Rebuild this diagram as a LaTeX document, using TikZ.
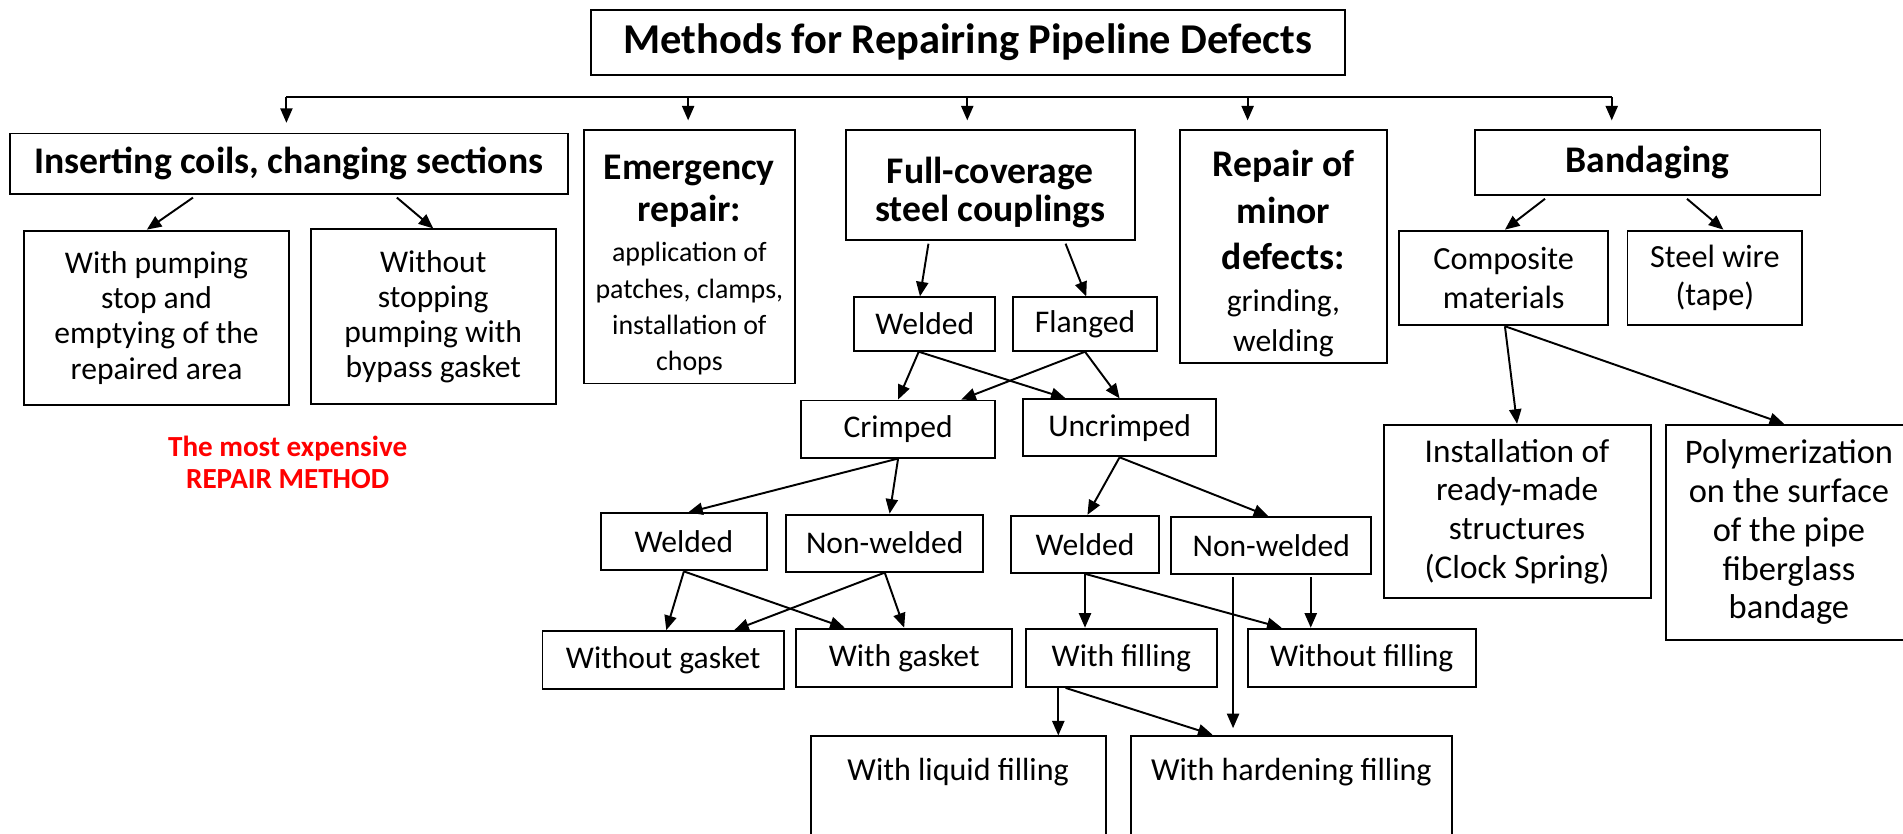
\documentclass[tikz,border=0pt]{standalone}
\usepackage{fontspec}
\setmainfont{Carlito}
\usetikzlibrary{arrows.meta,calc}

\newcommand{\hdf}{\fontsize{15.5}{16}\selectfont\bfseries}
\newcommand{\topgap}{\rule{0pt}{17pt}}

\begin{document}
\begin{tikzpicture}[x=0.5pt, y=-0.5pt,
        box/.style={draw, line width=0.8pt, align=center, inner sep=2pt},
        hd/.style={font=\hdf},
        txt/.style={font=\fontsize{13}{14.5}\selectfont},
        rtxt/.style={font=\fontsize{13.3}{16}\selectfont},
        arr/.style={line width=0.8pt, -{Triangle[length=6pt,width=5pt]}}]
        \useasboundingbox (0,0) rectangle (1568,687);
        % top level
        \node[box, font=\fontsize{17.5}{19}\selectfont\bfseries, minimum width=310.5pt, minimum height=27pt] (title) at (797.5,35) {Methods for Repairing Pipeline Defects};
        \node[box, hd, minimum width=230pt, minimum height=25pt] (ins) at (238,135) {Inserting coils, changing sections};
        \node[box, font=\fontsize{11.5}{15}\selectfont, minimum width=87pt, minimum height=104.5pt] (emer) at (568,211.5)
            {{\hdf\topgap Emergency}\\[2.5pt]{\hdf repair:}\\[1.5pt]application of\\patches, clamps,\\installation of\\chops};
        \node[box, hd, minimum width=119pt, minimum height=45.5pt] (full) at (816,152.5) {\topgap Full-coverage\\steel couplings};
        \node[box, font=\fontsize{13}{16.5}\selectfont, minimum width=85.5pt, minimum height=96pt] (minor) at (1057.5,203)
            {{\hdf\topgap Repair of}\\[2.5pt]{\hdf minor}\\[2.5pt]{\hdf defects:}\\[1pt]grinding,\\welding};
        \node[box, hd, minimum width=142.5pt, minimum height=27pt] (band) at (1357.5,134) {Bandaging};
        % second level
        \node[box, txt, minimum width=109pt, minimum height=72pt] (pump) at (129,262) {With pumping\\stop and\\emptying of the\\repaired area};
        \node[box, txt, minimum width=101pt, minimum height=72pt] (bypass) at (357,261) {Without\\stopping\\pumping with\\bypass gasket};
        \node[text=red, font=\fontsize{12}{13.5}\selectfont\bfseries, align=center] (note) at (237,381) {The most expensive\\REPAIR METHOD};
        \node[box, txt, minimum width=58pt, minimum height=22pt] (weldA) at (762,267) {Welded};
        \node[box, txt, minimum width=59pt, minimum height=22pt] (flang) at (894,267) {Flanged};
        \node[box, rtxt, minimum width=86pt, minimum height=39pt] (comp) at (1239,229) {Composite\\materials};
        \node[box, rtxt, minimum width=72pt, minimum height=39pt] (wire) at (1413,229) {Steel wire\\(tape)};
        % third level
        \node[box, txt, minimum width=80pt, minimum height=23.5pt] (crimp) at (740,353.5) {Crimped};
        \node[box, txt, minimum width=79.5pt, minimum height=23.5pt] (uncr) at (922.5,352.5) {Uncrimped};
        \node[box, rtxt, font=\fontsize{13.7}{16}\selectfont, minimum width=110pt, minimum height=71.5pt] (inst) at (1250,421.5) {Installation of\\ready-made\\structures\\(Clock Spring)};
        \node[box, rtxt, font=\fontsize{14.2}{16}\selectfont, minimum width=101.5pt, minimum height=88.5pt] (poly) at (1474,438.5) {Polymerization\\on the surface\\of the pipe\\fiberglass\\bandage};
        % fourth level
        \node[box, txt, minimum width=68.5pt, minimum height=23.5pt] (weldB) at (563.5,446.5) {Welded};
        \node[box, txt, minimum width=81pt, minimum height=23.5pt] (nonwB) at (729,447.5) {Non-welded};
        \node[box, txt, minimum width=61pt, minimum height=23.5pt] (weldC) at (894,448.5) {Welded};
        \node[box, txt, minimum width=82.5pt, minimum height=23.5pt] (nonwC) at (1047.5,449.5) {Non-welded};
        % fifth level
        \node[box, txt, minimum width=99.5pt, minimum height=24pt] (nogask) at (546.5,544) {Without gasket};
        \node[box, txt, minimum width=89pt, minimum height=24pt] (gask) at (745,542) {With gasket};
        \node[box, txt, minimum width=79pt, minimum height=24pt] (fill) at (924,542) {With filling};
        \node[box, txt, minimum width=94pt, minimum height=24pt] (nofill) at (1122,542) {Without filling};
        \node[box, txt, font=\fontsize{13.2}{14.5}\selectfont, anchor=north, inner ysep=0pt, text height=18pt, text depth=42pt, minimum width=121.5pt] (liq) at (789.5,606) {With liquid filling};
        \node[box, txt, font=\fontsize{13.2}{14.5}\selectfont, anchor=north, inner ysep=0pt, text height=18pt, text depth=42pt, minimum width=132pt] (hard) at (1064,606) {With hardening filling};

        % bus under the title
        \coordinate (t1) at (236,80);
        \coordinate (t2) at (567,80);
        \coordinate (t3) at (797,80);
        \coordinate (t4) at (1028,80);
        \coordinate (t5) at (1328,80);
        \draw[line width=0.8pt] (t1) -- (t5);
        \draw[arr, shorten >=4pt] (t1) -- (t1 |- ins.north);
        \draw[arr, shorten >=3.5pt] (t2) -- (t2 |- emer.north);
        \draw[arr, shorten >=3.5pt] (t3) -- (t3 |- full.north);
        \draw[arr, shorten >=3.5pt] (t4) -- (t4 |- minor.north);
        \draw[arr, shorten >=3.5pt] (t5) -- (t5 |- band.north);

        % branches
        \draw[arr] ($(ins.south)+(-79,2)$) -- ($(pump.north)+(-8,0)$);
        \draw[arr] ($(ins.south)+(89,2)$) -- (bypass.north);
        \draw[arr] ($(full.south)+(-51,2)$) -- ($(weldA.north)+(-4,0)$);
        \draw[arr] ($(full.south)+(62,2)$) -- ($(flang.north)+(1,0)$);
        \draw[arr] ($(weldA.south)+(-5,0)$) -- (crimp.north);
        \draw[arr] ($(weldA.south)+(-5,0)$) -- ($(uncr.north)+(-44.5,0)$);
        \draw[arr] (flang.south) -- ($(crimp.north)+(52,0)$);
        \draw[arr] (flang.south) -- (uncr.north);
        \draw[arr] (crimp.south) -- ($(weldB.north)+(3.5,0)$);
        \draw[arr] (crimp.south) -- ($(nonwB.north)+(4,0)$);
        \draw[arr] (uncr.south) -- ($(weldC.north)+(2,0)$);
        \draw[arr] (uncr.south) -- ($(nonwC.north)+(-2.5,0)$);
        \draw[arr] (weldB.south) -- ($(nogask.north)+(2.5,0)$);
        \draw[arr] (weldB.south) -- ($(gask.north)+(-49,0)$);
        \draw[arr] (nonwB.south) -- ($(nogask.north)+(58.5,0)$);
        \draw[arr] (nonwB.south) -- (gask.north);
        \draw[arr] (weldC.south) -- ($(fill.north)+(-30,0)$);
        \draw[arr] (weldC.south) -- ($(nofill.north)+(-66,0)$);
        \draw[arr] ($(nonwC.south)+(32.5,2)$) -- ($(nofill.north)+(-42,0)$);
        \draw[arr, shorten >=3pt] ($(nonwC.south)+(-31.5,2)$) -- ($(hard.north)+(-48,0)$);
        \draw[arr] ($(fill.south)+(-52,0)$) -- ($(liq.north)+(82.5,0)$);
        \draw[arr, shorten >=1pt] ($(fill.south)+(-46,0)$) -- ($(hard.north)+(-63,0)$);
        \draw[arr] ($(band.south)+(-84.5,2)$) -- ($(comp.north)+(1,0)$);
        \draw[arr] ($(band.south)+(32.5,2)$) -- ($(wire.north)+(7,0)$);
        \draw[arr] ($(comp.south)+(1,0)$) -- (inst.north);
        \draw[arr] ($(comp.south)+(1,0)$) -- ($(poly.north)+(-4,0)$);
    \end{tikzpicture}
\end{document}
